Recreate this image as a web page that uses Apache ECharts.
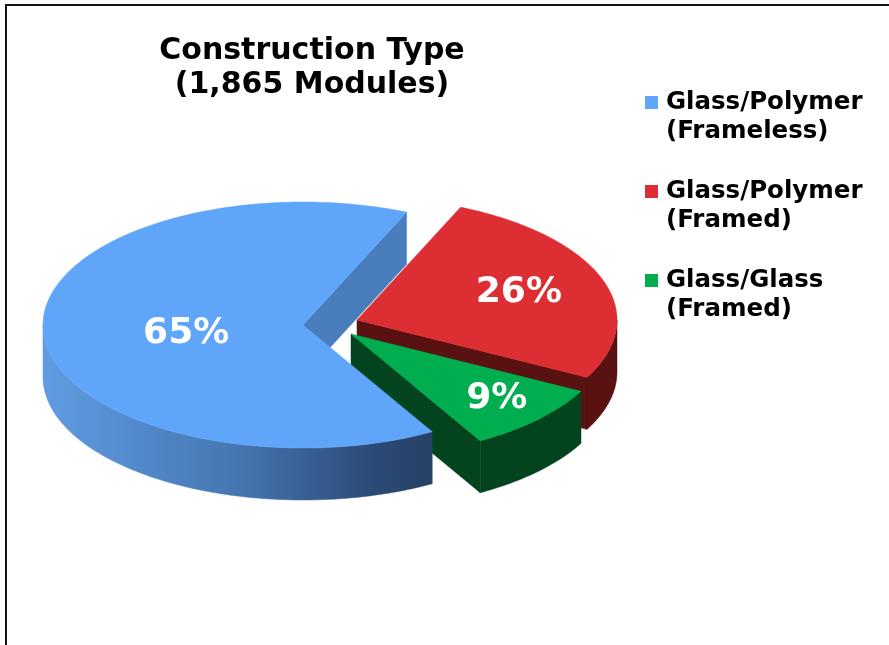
<!DOCTYPE html>
<html>
<head>
<meta charset="utf-8">
<style>html,body{margin:0;padding:0;background:#fff}#c{width:889px;height:645px}</style>
<script src="https://cdn.jsdelivr.net/npm/echarts@6/dist/echarts.min.js"></script>
</head>
<body>
<div id="c"></div>
<script>
const categories = ['Glass/Polymer\n(Frameless)', 'Glass/Polymer\n(Framed)', 'Glass/Glass\n(Framed)'];
const values = [64.8, 26.2, 9];
const labels = ['65%', '26%', '9%'];
const chartTitle = 'Construction Type\n(1,865 Modules)';

const FONT = '"DejaVu Sans", Verdana, sans-serif';
const firstAngle = 150.2, RX = 260, RY = 123, DEPTH = 52;
const topColors = ['#5fa6fb', '#dc2e33', '#01ae4f'];
const wallColors = ['#4a7dbb', '#5a1111', '#03441f'];
const apexes = [[303, 325], [357, 320], [351, 334]];
const labelFrac = [[0.45, 1.25], [0.66, 0.66], [0.78, 0.76]];
const zOrder = [4, 2, 3];

const total = values.reduce((a, b) => a + b, 0);
function startOf(i) {
  let s = firstAngle;
  for (let k = 0; k < i; k++) s += values[k] / total * 360;
  return s >= 360 ? s - 360 : s;
}
function pt(c, a, dy) {
  const r = a * Math.PI / 180;
  return [c[0] + RX * Math.sin(r), c[1] - RY * Math.cos(r) + (dy || 0)];
}
function arc(c, a0, a1, dy) {
  const pts = [], n = Math.max(2, Math.ceil(Math.abs(a1 - a0)));
  for (let k = 0; k <= n; k++) pts.push(pt(c, a0 + (a1 - a0) * k / n, dy));
  return pts;
}
function poly(points, fill) {
  return { type: 'polygon', shape: { points }, style: { fill, stroke: fill, lineWidth: 0.5 } };
}
function renderSlice(i) {
  return function (params, api) {
    const v = api.value(0);
    const a0 = startOf(i);
    const a1 = a0 + v / total * 360;
    const c = apexes[i], kids = [];
    const wall = i === 0
      ? new echarts.graphic.LinearGradient(43, 0, 432, 0, [
          { offset: 0, color: '#609ce2' },
          { offset: 0.5, color: '#4576b2' },
          { offset: 0.85, color: '#2b4a76' },
          { offset: 1, color: '#264164' }
        ], true)
      : wallColors[i];
    // radial wall that faces the viewer
    const ra = a1 * Math.PI / 180;
    if (Math.sin(ra) > 0) {
      const p = pt(c, a1);
      kids.push(poly([c, p, [p[0], p[1] + DEPTH], [c[0], c[1] + DEPTH]], wallColors[i]));
    }
    // outer rim, front half only
    const lo = Math.max(a0, 90), hi = Math.min(a1, 270);
    if (hi > lo) {
      const up = arc(c, lo, hi, 0), down = arc(c, hi, lo, DEPTH);
      kids.push(poly(up.concat(down), wall));
    }
    // top face
    kids.push(poly([c].concat(arc(c, a0, a1, 0)), topColors[i]));
    // percentage
    const mid = (a0 + a1) / 2 * Math.PI / 180;
    kids.push({
      type: 'text',
      style: {
        text: labels[i],
        x: c[0] + RX * labelFrac[i][0] * Math.sin(mid),
        y: c[1] - RY * labelFrac[i][1] * Math.cos(mid),
        fill: '#fff',
        font: 'bold 36px ' + FONT,
        align: 'center',
        verticalAlign: 'middle'
      }
    });
    return { type: 'group', children: kids };
  };
}

const chart = echarts.init(document.getElementById('c'), null, { renderer: 'canvas' });
chart.setOption({
  animation: false,
  backgroundColor: '#fff',
  title: {
    text: chartTitle,
    left: 312,
    top: 34,
    padding: 0,
    textAlign: 'center',
    textStyle: { fontFamily: FONT, fontWeight: 'bold', fontSize: 30, lineHeight: 34, color: '#000' }
  },
  legend: {
    orient: 'vertical',
    left: 645,
    top: 88,
    padding: 0,
    itemWidth: 16,
    itemHeight: 58,
    itemGap: 31,
    data: categories,
    selectedMode: false,
    icon: 'path://M0 8H13V21H0Z M0 0L16 0Z M0 58L16 58Z',
    textStyle: {
      fontFamily: FONT, fontWeight: 'bold', fontSize: 24.5, lineHeight: 29, color: '#000'
    }
  },
  graphic: [{
    type: 'rect',
    silent: true,
    shape: { x: 6, y: 5, width: 1000, height: 1000 },
    style: { fill: 'none', stroke: '#111', lineWidth: 2 }
  }],
  series: categories.map((name, i) => ({
    type: 'custom',
    name,
    coordinateSystem: 'none',
    z: zOrder[i],
    itemStyle: { color: topColors[i] },
    renderItem: renderSlice(i),
    data: [[values[i]]]
  }))
});
</script>
</body>
</html>
